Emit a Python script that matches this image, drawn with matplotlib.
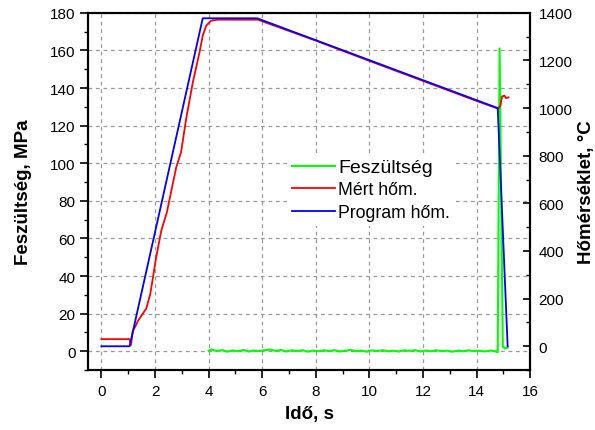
import matplotlib.pyplot as plt
from matplotlib.ticker import MultipleLocator

plt.rcParams['font.family'] = ['Liberation Sans', 'DejaVu Sans']

# Feszültség (MPa), left axis
fesz_t = [4.0, 4.1, 4.3, 4.5, 4.7, 4.9, 5.1, 5.3, 5.5, 5.7, 5.9, 6.1, 6.3, 6.5,
          6.7, 6.9, 7.1, 7.3, 7.5, 7.7, 7.9, 8.1, 8.3, 8.5, 8.7, 8.9, 9.1, 9.3,
          9.5, 9.7, 9.9, 10.1, 10.3, 10.5, 10.7, 10.9, 11.1, 11.3, 11.5, 11.7,
          11.9, 12.1, 12.3, 12.5, 12.7, 12.9, 13.1, 13.3, 13.5, 13.7, 13.9,
          14.1, 14.3, 14.5, 14.7, 14.79, 14.86, 14.98, 15.05, 15.16]
fesz_v = [0.2, 1.0, 0.1, 0.6, -0.2, 0.5, 0.0, 0.7, -0.1, 0.4, 0.1, 0.6, 0.9,
          0.2, 0.7, -0.1, 0.5, 0.1, 0.6, -0.2, 0.4, 0.0, 0.5, 0.1, 0.6, -0.1,
          0.3, 0.7, 0.0, 0.4, -0.2, 0.5, 0.1, 0.6, 0.0, 0.3, -0.1, 0.5, 0.2,
          0.6, -0.1, 0.4, 0.0, 0.5, 0.1, 0.3, -0.2, 0.4, 0.0, 0.5, 0.1, 0.3,
          -0.1, 0.4, 0.0, -0.5, 161.0, 2.5, 1.5, 2.0]

# Mért hőm. (°C), right axis
mert_t = [0.0, 1.05, 1.1, 1.17, 1.25, 1.36, 1.5, 1.67, 1.82, 1.92, 2.04, 2.23,
          2.44, 2.79, 2.97, 3.16, 3.41, 3.66, 3.78, 3.91, 4.09, 4.34, 5.84,
          8.0, 10.0, 12.0, 14.0, 14.79, 14.89, 14.95, 15.04, 15.1, 15.19]
mert_v = [30, 30, 5, 64, 80, 106, 130, 158, 218, 288, 372, 484, 562, 751,
          814, 954, 1108, 1234, 1304, 1346, 1367, 1371, 1371, 1283, 1198,
          1114, 1030, 998, 1010, 1049, 1052, 1042, 1045]

# Program hőm. (°C), right axis
prog_t = [0.0, 1.05, 3.78, 5.81, 14.79, 15.16]
prog_v = [0, 0, 1377, 1377, 1000, 0]

fig = plt.figure(figsize=(5.95, 4.31), dpi=100)
ax1 = fig.add_axes([0.148, 0.139, 0.743, 0.829])
ax2 = ax1.twinx()

l1, = ax1.plot(fesz_t, fesz_v, color='#00ff00', lw=1.5, label='Feszültség')
l2, = ax2.plot(mert_t, mert_v, color='#ff0000', lw=1.3, label='Mért hőm.')
l3, = ax2.plot(prog_t, prog_v, color='#0000ff', lw=1.3, label='Program hőm.')

ax1.set_xlim(-0.5, 16)
ax1.set_ylim(-10, 180)
ax2.set_ylim(-100, 1400)

ax1.xaxis.set_major_locator(MultipleLocator(2))
ax1.xaxis.set_minor_locator(MultipleLocator(1))
ax1.yaxis.set_major_locator(MultipleLocator(20))
ax1.yaxis.set_minor_locator(MultipleLocator(10))
ax2.yaxis.set_major_locator(MultipleLocator(200))
ax2.yaxis.set_minor_locator(MultipleLocator(100))

ax1.grid(True, which='major', color='#999999', ls=(0, (3, 3)), lw=0.9)

ax1.tick_params(axis='both', which='major', direction='out', length=6, width=1.2,
                labelsize=11, colors='black')
ax1.tick_params(axis='both', which='minor', direction='out', length=3, width=1.0)
ax1.tick_params(axis='x', pad=4)
ax1.tick_params(axis='y', pad=3)
ax2.tick_params(axis='y', which='major', direction='in', length=5, width=1.2,
                labelsize=11, pad=6)
ax2.tick_params(axis='y', which='minor', direction='in', length=3, width=1.0)
ax2.tick_params(axis='x', which='both', top=True, bottom=False, labeltop=False,
                labelbottom=False, direction='in', length=5, width=1.0)

for ax in (ax1, ax2):
    for s in ax.spines.values():
        s.set_linewidth(1.5)

ax1.set_xlabel('Idő, s', fontsize=13.5, fontweight='bold', labelpad=5)
ax1.set_ylabel('Feszültség, MPa', fontsize=13.5, fontweight='bold', labelpad=13)
ax2.set_ylabel('Hőmérséklet, °C', fontsize=13.5, fontweight='bold', labelpad=4)

leg = ax2.legend(handles=[l1, l2, l3], loc='upper left',
                 bbox_to_anchor=(0.43, 0.63), frameon=True, fancybox=False,
                 edgecolor='none', facecolor='white', framealpha=1,
                 fontsize=12.7, handlelength=2.4, handletextpad=0.2,
                 labelspacing=0.3, borderpad=0.3)
leg.get_texts()[0].set_fontsize(14)

fig.savefig('out.png', dpi=100)
